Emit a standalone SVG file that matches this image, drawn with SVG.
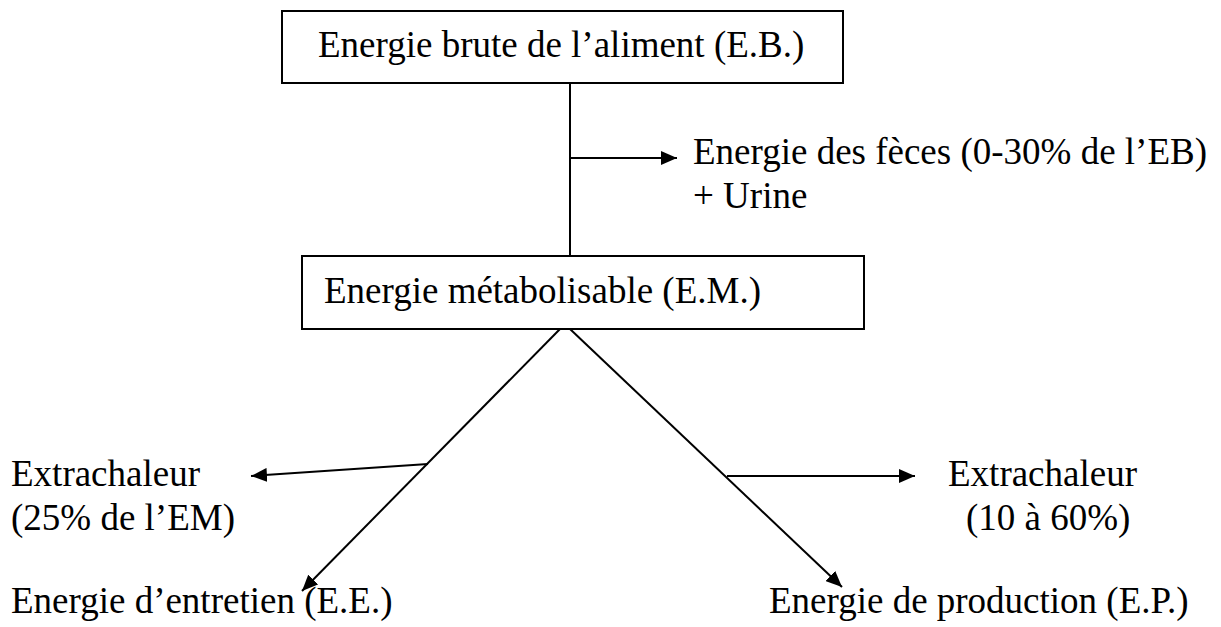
<svg xmlns="http://www.w3.org/2000/svg" width="1221" height="627" viewBox="0 0 1221 627">
<style>
.box{fill:#fff;stroke:#000;stroke-width:2}
.t{font-family:"Liberation Serif","Times New Roman",serif;font-size:37px;fill:#000}
.c{fill:none;stroke:#000;stroke-width:2}
</style>
<defs>
<marker id="ah" markerUnits="userSpaceOnUse" markerWidth="16" markerHeight="14" refX="16" refY="7" orient="auto">
<path d="M0,0 L16,7 L0,14 z" fill="#000"/>
</marker>
</defs>
<rect width="1221" height="627" fill="#fff"/>
<g id="connectors">
<line class="c" x1="570" y1="83" x2="570" y2="256"/>
<line class="c" x1="570" y1="158" x2="677" y2="158" marker-end="url(#ah)"/>
<line class="c" x1="560" y1="329" x2="302" y2="591" marker-end="url(#ah)"/>
<line class="c" x1="570" y1="329" x2="842" y2="587" marker-end="url(#ah)"/>
<line class="c" x1="428" y1="464" x2="251" y2="476" marker-end="url(#ah)"/>
<line class="c" x1="727" y1="476" x2="915" y2="476" marker-end="url(#ah)"/>
</g>
<g id="node-eb">
<rect class="box" x="282" y="11" width="561" height="72"/>
<text class="t" x="318" y="57">Energie brute de l’aliment (E.B.)</text>
</g>
<g id="node-feces">
<text class="t" x="693" y="164">Energie des fèces (0-30% de l’EB)</text>
<text class="t" x="693" y="208">+ Urine</text>
</g>
<g id="node-em">
<rect class="box" x="302" y="256" width="562" height="73"/>
<text class="t" x="324" y="303">Energie métabolisable (E.M.)</text>
</g>
<g id="node-extra-left">
<text class="t" x="11" y="486">Extrachaleur</text>
<text class="t" x="11" y="530">(25% de l’EM)</text>
</g>
<g id="node-ee">
<text class="t" x="11" y="613">Energie d’entretien (E.E.)</text>
</g>
<g id="node-extra-right">
<text class="t" x="948" y="486">Extrachaleur</text>
<text class="t" x="966" y="530">(10 à 60%)</text>
</g>
<g id="node-ep">
<text class="t" x="769" y="613">Energie de production (E.P.)</text>
</g>
</svg>
